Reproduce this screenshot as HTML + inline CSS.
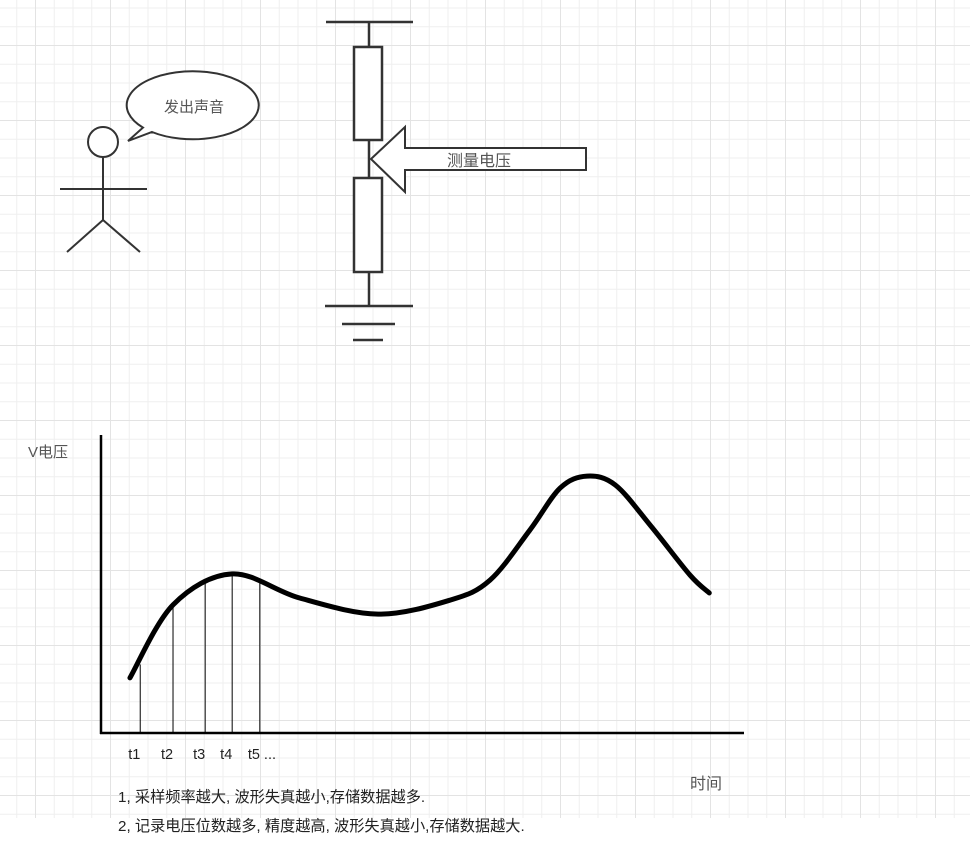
<!DOCTYPE html>
<html><head><meta charset="utf-8">
<style>
html,body{margin:0;padding:0;background:#fff;}
#root{position:relative;width:970px;height:844px;overflow:hidden;}
#grid{position:absolute;left:0;top:0;width:970px;height:818px;
background-image:
linear-gradient(#e3e3e3 1px,transparent 1px),
linear-gradient(90deg,#e3e3e3 1px,transparent 1px),
linear-gradient(#efefef 1px,transparent 1px),
linear-gradient(90deg,#efefef 1px,transparent 1px);
background-size:75px 75px,75px 75px,18.75px 18.75px,18.75px 18.75px;
background-position:0 45px,35px 0,0 7.5px,35px 0;}
svg{position:absolute;left:0;top:0;}
text{font-family:"Liberation Sans","Noto Sans CJK SC",sans-serif;}
</style></head>
<body>
<div id="root">
<div id="grid"></div>
<svg width="970" height="844" viewBox="0 0 970 844">
<g stroke="#333" stroke-width="2" fill="none">
<circle cx="103" cy="142" r="15" fill="#fff"/>
<line x1="103" y1="157" x2="103" y2="220"/>
<line x1="60" y1="189" x2="147" y2="189"/>
<line x1="103" y1="220" x2="67" y2="252"/>
<line x1="103" y1="220" x2="140" y2="252"/>
</g>
<g>
<path d="M128,141 L143,127.6 A66,34 0 1 1 152,132 Z" fill="#fff" stroke="#333" stroke-width="2"/>
<text x="194" y="112" font-size="15" fill="#555" text-anchor="middle">发出声音</text>
</g>
<g stroke="#333" stroke-width="2.5" fill="none">
<line x1="326" y1="22" x2="413" y2="22"/>
<line x1="369" y1="22" x2="369" y2="47"/>
<rect x="354" y="47" width="28" height="93" fill="#fff"/>
<line x1="369" y1="140" x2="369" y2="178"/>
<rect x="354" y="178" width="28" height="94" fill="#fff"/>
<line x1="369" y1="272" x2="369" y2="306"/>
<line x1="325" y1="306" x2="413" y2="306"/>
<line x1="342" y1="324" x2="395" y2="324"/>
<line x1="353" y1="340" x2="383" y2="340"/>
</g>
<g>
<path d="M371,159 L405,127 L405,148 L586,148 L586,170 L405,170 L405,192 Z" fill="#fff" stroke="#333" stroke-width="2"/>
<text x="479" y="166" font-size="16" fill="#555" text-anchor="middle">测量电压</text>
</g>
<g id="chart">
<line x1="101" y1="435" x2="101" y2="734" stroke="#000" stroke-width="2.5"/>
<line x1="100" y1="733" x2="744" y2="733" stroke="#000" stroke-width="2.5"/>
<text x="28" y="457" font-size="15" fill="#555">V电压</text>
<text x="690" y="789" font-size="16" fill="#555">时间</text>
<text x="118" y="802" font-size="15.2" fill="#222">1, 采样频率越大, 波形失真越小,存储数据越多.</text>
<text x="118" y="831" font-size="15.2" fill="#222">2, 记录电压位数越多, 精度越高, 波形失真越小,存储数据越大.</text>
</g>
</svg>
</div>
<script>
var curveT=[4.5,11.2,20.4,30.9,43.1,54.3,60.5,66.7,71.4,75.6,80,85.5,91.6,94.6];
var curveV=[18.5,43,53.4,45.3,39.9,44.6,51.3,68.1,82.2,86.2,83.2,69.5,53.0,47.0];
var sampleT=[6.1,11.2,16.2,20.4,24.7];
var sampleV=[23,43,51.3,53.4,50.3];
var sampleLabels=["t1","t2","t3","t4","t5 ..."];
function xs(t){return 101+t*6.43;}
function ys(v){return 733-v*2.98;}
var NS="http://www.w3.org/2000/svg";
var g=document.getElementById('chart');
var pts=curveT.map(function(t,i){return [xs(t),ys(curveV[i])];});
var d="M"+pts[0][0]+","+pts[0][1];
for(var i=0;i<pts.length-1;i++){
 var p0=pts[i-1]||pts[i],p1=pts[i],p2=pts[i+1],p3=pts[i+2]||p2;
 var c1x=p1[0]+(p2[0]-p0[0])/6,c1y=p1[1]+(p2[1]-p0[1])/6;
 var c2x=p2[0]-(p3[0]-p1[0])/6,c2y=p2[1]-(p3[1]-p1[1])/6;
 d+=" C"+c1x+","+c1y+" "+c2x+","+c2y+" "+p2[0]+","+p2[1];
}
sampleT.forEach(function(t,i){
 var l=document.createElementNS(NS,'line');
 l.setAttribute('x1',xs(t));l.setAttribute('x2',xs(t));
 l.setAttribute('y1',ys(sampleV[i]));l.setAttribute('y2',733);
 l.setAttribute('stroke','#000');l.setAttribute('stroke-width','1');
 
 
 g.appendChild(l);
 var tx=document.createElementNS(NS,'text');
 tx.setAttribute('x',xs(t)-12);tx.setAttribute('y',759);
 tx.setAttribute('font-size','14.5');tx.setAttribute('fill','#222');
 tx.textContent=sampleLabels[i];
 
 
 g.appendChild(tx);
});
var path=document.createElementNS(NS,'path');
path.setAttribute('d',d);path.setAttribute('fill','none');
path.setAttribute('stroke','#000');path.setAttribute('stroke-width','5');
path.setAttribute('stroke-linecap','round');


g.appendChild(path);
</script>
</body></html>
